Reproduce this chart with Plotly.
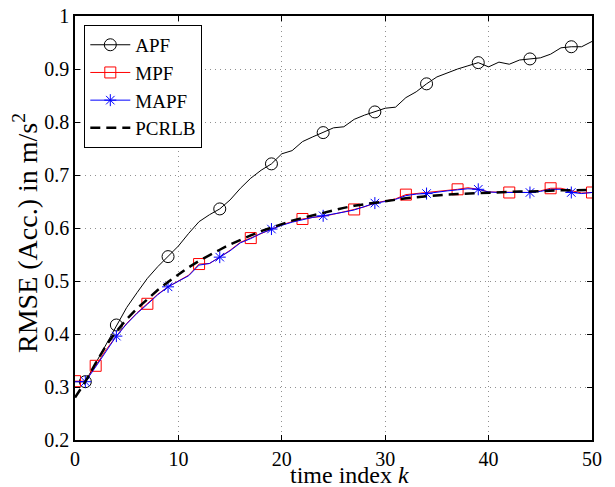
import plotly.graph_objects as go

k = list(range(0, 51))

apf = [0.310, 0.310, 0.345, 0.380, 0.417, 0.450, 0.478, 0.505, 0.527, 0.546,
       0.566, 0.590, 0.612, 0.625, 0.636, 0.653, 0.675, 0.694, 0.709, 0.721,
       0.740, 0.746, 0.763, 0.772, 0.780, 0.789, 0.791, 0.805, 0.813, 0.819,
       0.826, 0.828, 0.846, 0.857, 0.872, 0.885, 0.893, 0.900, 0.906, 0.912,
       0.904, 0.913, 0.909, 0.917, 0.919, 0.921, 0.928, 0.940, 0.942, 0.942,
       0.952]

mpf = [0.311, 0.311, 0.340, 0.370, 0.396, 0.420, 0.440, 0.457, 0.475, 0.489,
       0.500, 0.511, 0.532, 0.533, 0.545, 0.558, 0.573, 0.581, 0.590, 0.598,
       0.606, 0.612, 0.617, 0.620, 0.622, 0.626, 0.630, 0.635, 0.640, 0.647,
       0.651, 0.655, 0.663, 0.665, 0.666, 0.668, 0.671, 0.673, 0.676, 0.673,
       0.668, 0.668, 0.667, 0.667, 0.667, 0.670, 0.675, 0.675, 0.670, 0.666,
       0.667]

mapf = [0.310, 0.310, 0.338, 0.368, 0.396, 0.419, 0.439, 0.456, 0.474, 0.489,
        0.499, 0.510, 0.530, 0.533, 0.545, 0.557, 0.572, 0.580, 0.590, 0.598,
        0.605, 0.611, 0.616, 0.620, 0.623, 0.626, 0.630, 0.634, 0.640, 0.647,
        0.650, 0.654, 0.661, 0.664, 0.665, 0.668, 0.670, 0.672, 0.674, 0.673,
        0.668, 0.667, 0.667, 0.667, 0.667, 0.669, 0.673, 0.673, 0.667, 0.665,
        0.667]

pcrlb = [0.280, 0.310, 0.345, 0.378, 0.405, 0.428, 0.448, 0.466, 0.483, 0.498,
         0.512, 0.526, 0.538, 0.549, 0.559, 0.569, 0.578, 0.586, 0.594, 0.601,
         0.608, 0.614, 0.619, 0.624, 0.629, 0.634, 0.638, 0.642, 0.645, 0.648,
         0.651, 0.654, 0.656, 0.658, 0.660, 0.662, 0.663, 0.664, 0.665, 0.666,
         0.667, 0.668, 0.668, 0.669, 0.669, 0.670, 0.670, 0.671, 0.671, 0.672,
         0.672]

apf_marks = [1, 4, 9, 14, 19, 24, 29, 34, 39, 44, 48]
mpf_marks = [0, 2, 7, 12, 17, 22, 27, 32, 37, 42, 46, 50]
mapf_marks = [1, 4, 9, 14, 19, 24, 29, 34, 39, 44, 48]

x_ticks = [0, 10, 20, 30, 40, 50]
y_ticks = [0.2, 0.3, 0.4, 0.5, 0.6, 0.7, 0.8, 0.9, 1.0]
y_ticktext = ["0.2", "0.3", "0.4", "0.5", "0.6", "0.7", "0.8", "0.9", "1"]

x_title = "time index <i>k</i>"
y_title = "RMSE (Acc.) in m/s<sup>2</sup>"

FONT = "Liberation Serif"

series = [
    ("APF", apf, apf_marks, "black", "circle-open", 12, 1.0),
    ("MPF", mpf, mpf_marks, "red", "square-open", 11, 1.0),
    ("MAPF", mapf, mapf_marks, "blue", "asterisk-open", 10, 1.0),
]

fig = go.Figure()
for name, vals, marks, col, sym, sz, lw in series:
    fig.add_trace(go.Scatter(x=k, y=vals, mode="lines",
                             line=dict(color=col, width=lw),
                             showlegend=False, hoverinfo="skip"))
    fig.add_trace(go.Scatter(x=[k[i] for i in marks], y=[vals[i] for i in marks],
                             mode="markers",
                             marker=dict(symbol=sym, size=sz, color=col,
                                         line=dict(color=col, width=1)),
                             showlegend=False))
    fig.add_trace(go.Scatter(x=[None], y=[None], mode="lines+markers", name=name,
                             line=dict(color=col, width=lw),
                             marker=dict(symbol=sym, size=sz, color=col,
                                         line=dict(color=col, width=1))))

fig.add_trace(go.Scatter(x=k, y=pcrlb, mode="lines", name="PCRLB",
                         line=dict(color="black", width=2.5, dash="10px,6px")))

axis_common = dict(
    showline=True, linecolor="black", linewidth=1.5, mirror="ticks",
    ticks="inside", ticklen=5, tickcolor="black", tickwidth=1,
    showgrid=True, gridcolor="#909090", griddash="1px,4px", gridwidth=1,
    zeroline=False, automargin=False,
    tickfont=dict(family=FONT, size=20, color="black"),
)

fig.update_xaxes(range=[0, 50], tickvals=x_ticks, **axis_common)
fig.update_yaxes(range=[0.2, 1.0], tickvals=y_ticks, ticktext=y_ticktext, **axis_common)

fig.add_annotation(text=x_title, xref="paper", yref="paper", x=0.5, y=0,
                   xanchor="center", yanchor="middle", xshift=16, yshift=-35,
                   showarrow=False, font=dict(family=FONT, size=24, color="black"))
fig.add_annotation(text=y_title, xref="paper", yref="paper", x=0, y=0.5,
                   xanchor="center", yanchor="middle", xshift=-50, yshift=-5,
                   textangle=-90, showarrow=False,
                   font=dict(family=FONT, size=28, color="black"))

fig.update_layout(
    width=615, height=487,
    margin=dict(l=75, r=23, t=16, b=47),
    paper_bgcolor="white", plot_bgcolor="white",
    font=dict(family=FONT, size=18, color="black"),
    legend=dict(x=0.018, y=0.979, xanchor="left", yanchor="top",
                bgcolor="white", bordercolor="black", borderwidth=1,
                font=dict(family=FONT, size=19, color="black"),
                itemwidth=40, tracegroupgap=0),
)

fig.write_html("out.html", config={"displayModeBar": False},
               post_script="document.body.style.margin='0';document.body.style.padding='0';")
